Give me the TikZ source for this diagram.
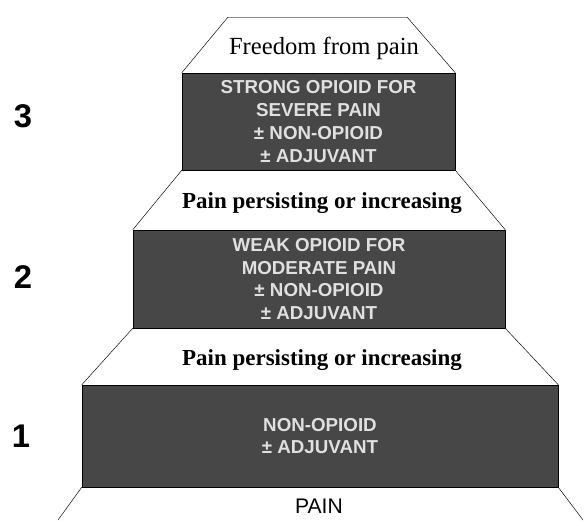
\documentclass[tikz,border=0pt]{standalone}
\usepackage{fontspec}
\setmainfont{Liberation Serif}
\setsansfont{Liberation Sans}
\usetikzlibrary{positioning}

\begin{document}
\begin{tikzpicture}[x=0.03cm, y=-0.03cm,
  rung/.style={draw=black,fill=black!72,text=black!12,align=center,inner sep=0pt,
    font=\sffamily\bfseries\fontsize{16}{19.5}\selectfont},
  cue/.style={font=\bfseries\fontsize{19.6}{22}\selectfont},
  stepno/.style={font=\sffamily\bfseries\fontsize{28}{32}\selectfont}]
  \useasboundingbox (0,0) rectangle (585,520);

  % rungs of the ladder
  \node[rung,minimum width=8.19cm,minimum height=2.91cm] (s3) at (318.5,121.5)
    {STRONG OPIOID FOR\\SEVERE PAIN\\± NON-OPIOID\\± ADJUVANT};
  \node[rung,minimum width=11.16cm,minimum height=2.94cm] (s2) at (319,279)
    {WEAK OPIOID FOR\\MODERATE PAIN\\± NON-OPIOID\\± ADJUVANT};
  \node[rung,minimum width=14.28cm,minimum height=3.06cm] (s1) at (320,436)
    {NON-OPIOID\\± ADJUVANT};

  \coordinate (tl) at (228,17);
  \coordinate (tr) at (407,17);
  \coordinate (bl) at (58,520);
  \coordinate (br) at (583,520);

  \draw[black!45] (tl) -- (tr);
  \draw (tl) -- (s3.north west);
  \draw (tr) -- (s3.north east);
  \draw (s3.south west) -- (s2.north west);
  \draw (s3.south east) -- (s2.north east);
  \draw (s2.south west) -- (s1.north west);
  \draw (s2.south east) -- (s1.north east);
  \draw (s1.south west) -- (bl);
  \draw (s1.south east) -- (br);

  % texts between the rungs
  \node[font=\fontsize{21}{24}\selectfont] (free) at (324,48) {Freedom from pain};
  \node[cue] (up2) at (322,203) {Pain persisting or increasing};
  \node[cue] (up1) at (322,360) {Pain persisting or increasing};
  \node[font=\sffamily\fontsize{18}{20}\selectfont,inner sep=0pt] (pain) at (319,506) {PAIN};

  % step numbers
  \node[stepno] (n3) at (23,116) {3};
  \node[stepno] (n2) at (23,277) {2};
  \node[stepno] (n1) at (21,436) {1};
\end{tikzpicture}
\end{document}
